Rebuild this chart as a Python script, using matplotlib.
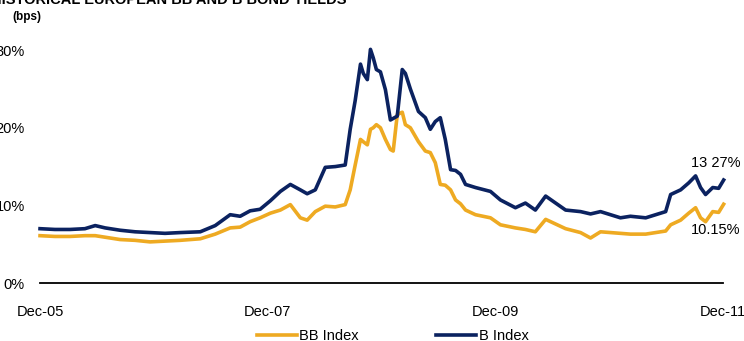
import numpy as np
import pandas as pd
import matplotlib
matplotlib.use("Agg")
import matplotlib.pyplot as plt

plt.rcParams['font.family'] = ['Liberation Sans', 'DejaVu Sans']

# data (yields, %)
dates = ["2005-12-01", "2006-01-18", "2006-03-07", "2006-04-24", "2006-05-27",
         "2006-06-28", "2006-08-15", "2006-10-02", "2006-11-19", "2007-01-06",
         "2007-02-24", "2007-04-29", "2007-06-16", "2007-08-03", "2007-09-04",
         "2007-10-06", "2007-11-07", "2007-12-10", "2008-01-11", "2008-02-12",
         "2008-03-15", "2008-04-06", "2008-05-02", "2008-06-03", "2008-07-05",
         "2008-08-06", "2008-08-22", "2008-09-07", "2008-09-24", "2008-10-03",
         "2008-10-16", "2008-10-26", "2008-11-04", "2008-11-14", "2008-11-27",
         "2008-12-13", "2008-12-29", "2009-01-07", "2009-01-20", "2009-02-05",
         "2009-02-15", "2009-03-03", "2009-03-29", "2009-04-20", "2009-05-06",
         "2009-05-22", "2009-06-07", "2009-06-23", "2009-07-10", "2009-07-26",
         "2009-08-11", "2009-08-27", "2009-09-28", "2009-11-15", "2009-12-17",
         "2010-02-03", "2010-03-07", "2010-04-08", "2010-05-11", "2010-06-12",
         "2010-07-14", "2010-08-31", "2010-10-02", "2010-11-03", "2010-12-05",
         "2011-01-06", "2011-02-07", "2011-03-28", "2011-04-29", "2011-05-31",
         "2011-06-16", "2011-07-18", "2011-08-13", "2011-09-04", "2011-09-20",
         "2011-10-06", "2011-10-29", "2011-11-17", "2011-12-03"]

b_index = [7.0, 6.9, 6.9, 7.0, 7.4, 7.1, 6.8, 6.6, 6.5, 6.4,
           6.5, 6.6, 7.4, 8.8, 8.6, 9.3, 9.5, 10.6, 11.8, 12.7,
           12.0, 11.5, 12.0, 14.9, 15.0, 15.2, 19.8, 23.5, 28.2, 27.0,
           26.2, 30.1, 29.0, 27.5, 27.2, 24.9, 21.0, 21.2, 21.5, 27.5,
           27.0, 25.0, 22.1, 21.3, 19.8, 20.8, 21.3, 18.5, 14.6, 14.5,
           14.0, 12.7, 12.3, 11.8, 10.7, 9.7, 10.3, 9.4, 11.2, 10.3,
           9.4, 9.2, 8.9, 9.2, 8.8, 8.4, 8.6, 8.4, 8.8, 9.2,
           11.4, 12.0, 12.9, 13.8, 12.3, 11.4, 12.3, 12.2, 13.27]

bb_index = [6.1, 6.0, 6.0, 6.1, 6.1, 5.9, 5.6, 5.5, 5.3, 5.4,
            5.5, 5.7, 6.3, 7.1, 7.2, 7.9, 8.4, 9.0, 9.4, 10.1,
            8.4, 8.1, 9.2, 9.9, 9.8, 10.1, 12.0, 15.2, 18.5, 18.2,
            17.8, 19.8, 20.0, 20.4, 20.0, 18.5, 17.2, 17.0, 21.7, 22.0,
            20.4, 20.0, 18.2, 17.0, 16.8, 15.5, 12.7, 12.6, 12.0, 10.7,
            10.2, 9.4, 8.8, 8.4, 7.5, 7.1, 6.9, 6.6, 8.2, 7.6,
            7.0, 6.5, 5.8, 6.6, 6.5, 6.4, 6.3, 6.3, 6.5, 6.7,
            7.5, 8.1, 9.0, 9.7, 8.4, 7.9, 9.2, 9.1, 10.15]

tick_dates = ["2005-12-01", "2007-12-01", "2009-12-01", "2011-12-01"]
tick_labels = ["Dec-05", "Dec-07", "Dec-09", "Dec-11"]

dates = pd.to_datetime(dates)
tick_dates = pd.to_datetime(tick_dates)

navy = "#0b2260"
gold = "#eeaa22"
fs = 10.5

fig = plt.figure(figsize=(7.44, 3.41), dpi=100)
ax = fig.add_axes([0.0538, 0.170, 0.918, 0.683])

ax.plot(dates, bb_index, color=gold, lw=2.6, label="BB Index", clip_on=False)
ax.plot(dates, b_index, color=navy, lw=2.6, label="B Index", clip_on=False)

ax.set_ylim(0, 30)
ax.set_xlim(tick_dates[0], tick_dates[-1])
ax.set_yticks([0, 10, 20, 30])
ax.set_yticklabels(["0%", "10%", "20%", "30%"], fontsize=fs)
ax.set_xticks(tick_dates)
ax.set_xticklabels(tick_labels, fontsize=fs)
ax.tick_params(axis='both', length=0)
ax.tick_params(axis='y', pad=11)
ax.tick_params(axis='x', pad=16)

for s in ["top", "right", "left"]:
    ax.spines[s].set_visible(False)
ax.spines["bottom"].set_linewidth(1.3)

ax.text(pd.Timestamp("2011-08-19"), 15.5, "13 27%", fontsize=fs, va="center", ha="left")
ax.text(pd.Timestamp("2011-08-19"), 6.85, "10.15%", fontsize=fs, va="center", ha="left")

fig.text(-0.012, 1.0, "HISTORICAL EUROPEAN BB AND B BOND YIELDS", fontsize=10.5,
         fontweight="bold", va="center", ha="left")
fig.text(0.016, 0.95, "(bps)", fontsize=8.5, fontweight="bold", va="center", ha="left")

fig.legend(loc="lower center", bbox_to_anchor=(0.528, -0.045), ncol=2, frameon=False,
           fontsize=fs, handlelength=2.75, handletextpad=0.15, columnspacing=5.3)

fig.savefig("out.png", dpi=100)
